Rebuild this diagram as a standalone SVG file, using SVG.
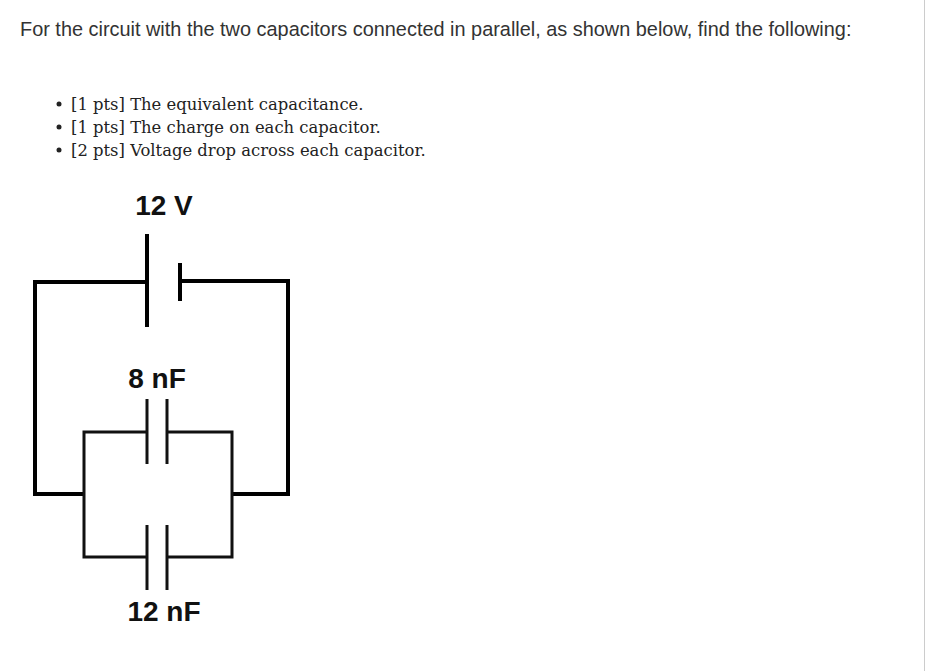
<svg xmlns="http://www.w3.org/2000/svg" width="933" height="671" viewBox="0 0 933 671">
<style>
.h{font-family:"Liberation Sans",Arial,sans-serif;font-size:19.9px;fill:#333}
.b{font-family:"DejaVu Serif",Georgia,serif;font-size:16.4px;fill:#222}
.l{font-family:"Liberation Sans",Arial,sans-serif;font-size:28px;font-weight:bold;fill:#111}
.w4{stroke:#000;stroke-width:4;fill:none}
.w3{stroke:#111;stroke-width:3;fill:none}
</style>
<rect width="933" height="671" fill="#fff"/>
<line x1="924.500" y1="0" x2="924.500" y2="671" stroke="#ccc"/>
<text class="h" x="20" y="36">For the circuit with the two capacitors connected in parallel, as shown below, find the following:</text>
<g id="bullets">
<circle cx="59" cy="104" r="2.5" fill="#222"/><text class="b" x="71" y="110">[1 pts] The equivalent capacitance.</text>
<circle cx="59" cy="127" r="2.5" fill="#222"/><text class="b" x="71" y="133">[1 pts] The charge on each capacitor.</text>
<circle cx="59" cy="150" r="2.5" fill="#222"/><text class="b" x="71" y="156">[2 pts] Voltage drop across each capacitor.</text>
</g>
<g id="battery">
<line class="w4" x1="147" y1="234" x2="147" y2="327"/>
<line class="w4" x1="180" y1="263" x2="180" y2="301"/>
<text class="l" x="164" y="215" text-anchor="middle">12 V</text>
</g>
<g id="c8">
<line class="w3" x1="147" y1="399" x2="147" y2="464"/>
<line class="w3" x1="167" y1="399" x2="167" y2="464"/>
<text class="l" x="157" y="388" text-anchor="middle">8 nF</text>
</g>
<g id="c12">
<line class="w3" x1="147" y1="525" x2="147" y2="590"/>
<line class="w3" x1="167" y1="525" x2="167" y2="590"/>
<text class="l" x="164" y="621" text-anchor="middle">12 nF</text>
</g>
<g id="wires">
<polyline class="w4" points="147,282 35,282 35,494 83,494"/>
<polyline class="w4" points="180,281 288,281 288,494 233,494"/>
<polyline class="w3" points="147,432 84,432 84,557 147,557"/>
<polyline class="w3" points="167,432 232,432 232,557 167,557"/>
</g>
</svg>
